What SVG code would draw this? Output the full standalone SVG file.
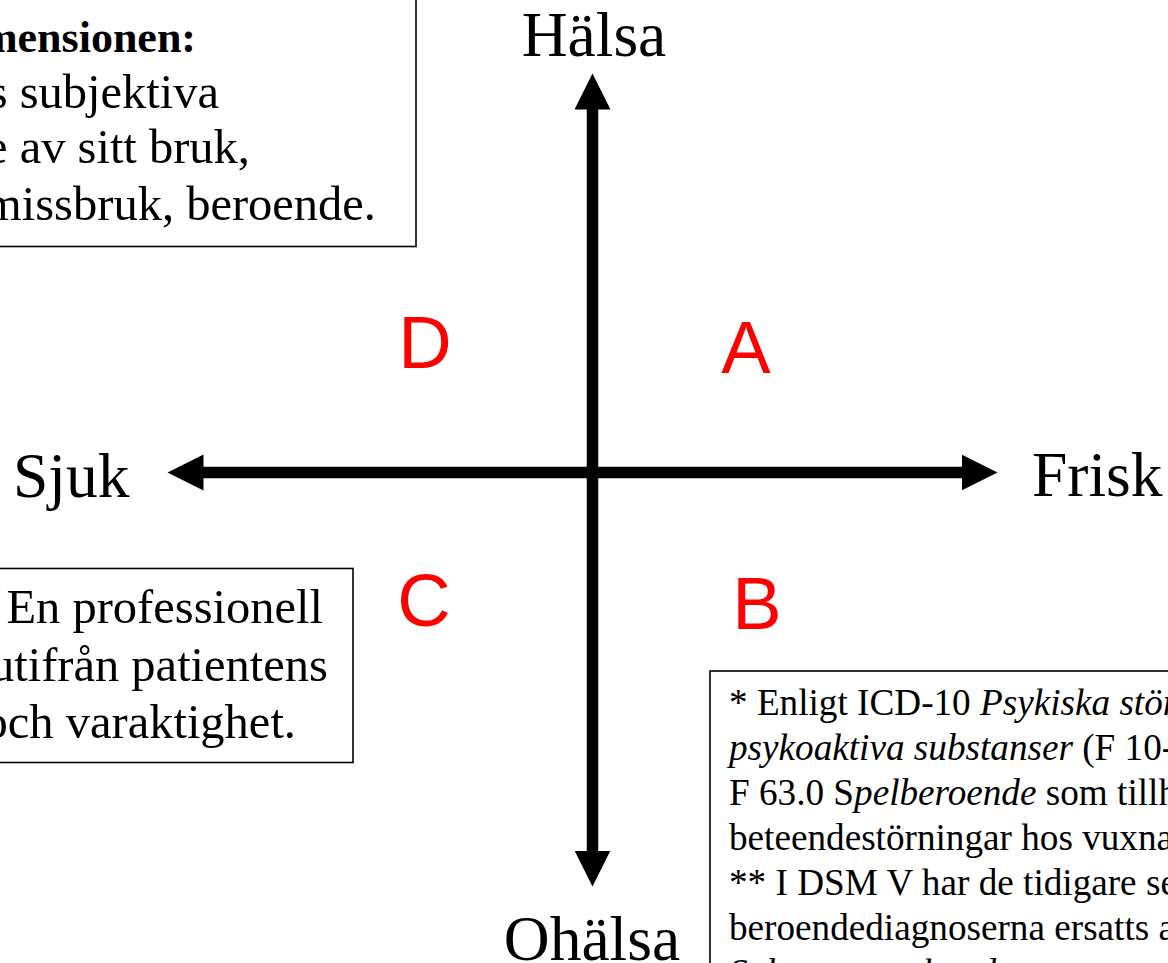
<svg xmlns="http://www.w3.org/2000/svg" width="1168" height="963" viewBox="0 0 1168 963">
  <style>
    .serif { font-family: "Liberation Serif", "Times New Roman", serif; fill: #000; }
    .axis { font-size: 63.5px; }
    .note { font-size: 48.5px; text-anchor: end; }
    .head { font-size: 44px; font-weight: bold; text-anchor: end; }
    .small { font-size: 37.2px; }
    .quad { font-family: "Liberation Sans", Arial, sans-serif; font-size: 74px; fill: #ff0000; text-anchor: middle; }
    .box { fill: #fff; stroke: #000; stroke-width: 1.6; }
    .ax { stroke: #000; stroke-width: 11.5; fill: none; }
  </style>
  <defs>
    <marker id="head" markerUnits="userSpaceOnUse" markerWidth="37" markerHeight="37" refX="0.5" refY="18" orient="auto-start-reverse">
      <path d="M0,0 L36,18 L0,36 z" fill="#000"/>
    </marker>
  </defs>

  <rect width="1168" height="963" fill="#fff"/>

  <!-- axes -->
  <g id="connectors">
    <line class="ax" x1="592.5" y1="109" x2="592.5" y2="851" marker-start="url(#head)" marker-end="url(#head)"/>
    <line class="ax" x1="203" y1="472.5" x2="962" y2="472.5" marker-start="url(#head)" marker-end="url(#head)"/>
  </g>

  <!-- axis end labels -->
  <g id="halsa"><text class="serif axis" x="594" y="56" text-anchor="middle">Hälsa</text></g>
  <g id="ohalsa"><text class="serif axis" x="592" y="960" text-anchor="middle">Ohälsa</text></g>
  <g id="sjuk"><text class="serif axis" x="13" y="497">Sjuk</text></g>
  <g id="frisk"><text class="serif axis" x="1032" y="496">Frisk</text></g>

  <!-- quadrant letters -->
  <g id="quad-a"><text class="quad" x="746" y="373">A</text></g>
  <g id="quad-b"><text class="quad" x="757" y="629">B</text></g>
  <g id="quad-c"><text class="quad" x="424" y="626">C</text></g>
  <g id="quad-d"><text class="quad" x="425" y="368">D</text></g>

  <!-- subjective dimension box -->
  <g id="box-subjective">
    <rect class="box" x="-5" y="-5" width="421" height="251.5"/>
    <text class="serif head" x="196" y="52">mensionen:</text>
    <text class="serif note" x="219" y="108">s subjektiva</text>
    <text class="serif note" x="250" y="163">e av sitt bruk,</text>
    <text class="serif note" x="376" y="220">missbruk, beroende.</text>
  </g>

  <!-- professional assessment box -->
  <g id="box-professional">
    <rect class="box" x="-5" y="568.5" width="358" height="194"/>
    <text class="serif note" x="323" y="623">En professionell</text>
    <text class="serif note" x="328" y="681">utifrån patientens</text>
    <text class="serif note" x="296" y="738">och varaktighet.</text>
  </g>

  <!-- footnote box -->
  <g id="box-footnote">
    <rect class="box" x="710" y="671" width="500" height="400"/>
    <text class="serif small" x="729" y="715">* Enligt ICD-10 <tspan font-style="italic">Psykiska störningar</tspan></text>
    <text class="serif small" x="729" y="760"><tspan font-style="italic">psykoaktiva substanser</tspan> (F 10-19)</text>
    <text class="serif small" x="729" y="805">F 63.0 S<tspan font-style="italic">pelberoende</tspan> som tillhör</text>
    <text class="serif small" x="729" y="850">beteendestörningar hos vuxna</text>
    <text class="serif small" x="729" y="895">** I DSM V har de tidigare separata</text>
    <text class="serif small" x="729" y="940">beroendediagnoserna ersatts av</text>
    <text class="serif small" x="729" y="985" font-style="italic">Substance-related</text>
  </g>
</svg>
